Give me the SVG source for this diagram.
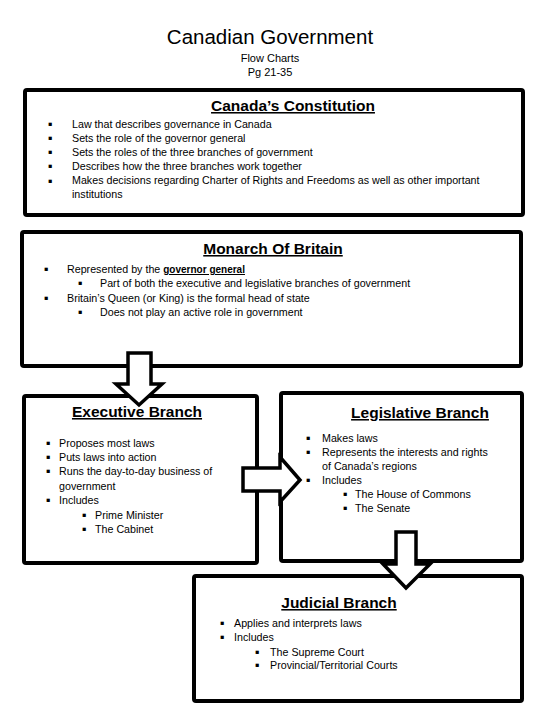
<svg xmlns="http://www.w3.org/2000/svg" width="540" height="720" viewBox="0 0 540 720">
<style>
text{font-family:"Liberation Sans",Arial,sans-serif;fill:#000}
.h1{font-size:20.5px}
.sub{font-size:11px}
.ttl{font-size:15.5px;font-weight:bold;text-decoration:underline}
.t{font-size:10.7px}
.b{font-family:"DejaVu Sans",sans-serif;font-size:6.5px}
.box{fill:#fff;stroke:#000;stroke-width:4}
.arr{fill:#fff;stroke:#000;stroke-width:3.5;stroke-linejoin:miter}
</style>
<rect width="540" height="720" fill="#fff"/>
<g id="header">
<text class="h1" x="270" y="44" text-anchor="middle">Canadian Government</text>
<text class="sub" x="270" y="62" text-anchor="middle">Flow Charts</text>
<text class="sub" x="270" y="76" text-anchor="middle">Pg 21-35</text>
</g>
<g id="constitution">
<rect class="box" x="25" y="90" width="498" height="125" rx="2"/>
<text class="ttl" x="293" y="111" text-anchor="middle">Canada’s Constitution</text>
<text class="b" x="48" y="126">▪</text><text class="t" x="72" y="128">Law that describes governance in Canada</text>
<text class="b" x="48" y="140">▪</text><text class="t" x="72" y="142">Sets the role of the governor general</text>
<text class="b" x="48" y="154">▪</text><text class="t" x="72" y="156">Sets the roles of the three branches of government</text>
<text class="b" x="48" y="168">▪</text><text class="t" x="72" y="170">Describes how the three branches work together</text>
<text class="b" x="48" y="183">▪</text><text class="t" x="72" y="184">Makes decisions regarding Charter of Rights and Freedoms as well as other important</text>
<text class="t" x="72" y="198">institutions</text>
</g>
<g id="monarch">
<rect class="box" x="22" y="232" width="499" height="134" rx="2"/>
<text class="ttl" x="273" y="254" text-anchor="middle">Monarch Of Britain</text>
<text class="b" x="44" y="271">▪</text><text class="t" x="67" y="273">Represented by the <tspan font-weight="bold" text-decoration="underline" font-size="10px">governor general</tspan></text>
<text class="b" x="78" y="285">▪</text><text class="t" x="100" y="287">Part of both the executive and legislative branches of government</text>
<text class="b" x="44" y="300">▪</text><text class="t" x="67" y="302">Britain’s Queen (or King) is the formal head of state</text>
<text class="b" x="78" y="314">▪</text><text class="t" x="100" y="316">Does not play an active role in government</text>
</g>
<g id="executive">
<rect class="box" x="24" y="396" width="233" height="167" rx="2"/>
<text class="ttl" x="137" y="417" text-anchor="middle">Executive Branch</text>
<text class="b" x="46" y="445">▪</text><text class="t" x="59" y="447">Proposes most laws</text>
<text class="b" x="46" y="459">▪</text><text class="t" x="59" y="461">Puts laws into action</text>
<text class="b" x="46" y="473">▪</text><text class="t" x="59" y="475">Runs the day-to-day business of</text>
<text class="t" x="59" y="490">government</text>
<text class="b" x="46" y="502">▪</text><text class="t" x="59" y="504">Includes</text>
<text class="b" x="82" y="517">▪</text><text class="t" x="95" y="519">Prime Minister</text>
<text class="b" x="82" y="531">▪</text><text class="t" x="95" y="533">The Cabinet</text>
</g>
<g id="legislative">
<rect class="box" x="281" y="393" width="241" height="168" rx="2"/>
<text class="ttl" x="420" y="418" text-anchor="middle">Legislative Branch</text>
<text class="b" x="306" y="440">▪</text><text class="t" x="322" y="442">Makes laws</text>
<text class="b" x="306" y="454">▪</text><text class="t" x="322" y="456">Represents the interests and rights</text>
<text class="t" x="322" y="470">of Canada’s regions</text>
<text class="b" x="306" y="482">▪</text><text class="t" x="322" y="484">Includes</text>
<text class="b" x="343" y="496">▪</text><text class="t" x="355" y="498">The House of Commons</text>
<text class="b" x="343" y="510">▪</text><text class="t" x="355" y="512">The Senate</text>
</g>
<g id="judicial">
<rect class="box" x="194" y="576" width="328" height="125" rx="2"/>
<text class="ttl" x="339" y="608" text-anchor="middle">Judicial Branch</text>
<text class="b" x="220" y="625">▪</text><text class="t" x="234" y="627">Applies and interprets laws</text>
<text class="b" x="220" y="639">▪</text><text class="t" x="234" y="641">Includes</text>
<text class="b" x="255" y="654">▪</text><text class="t" x="270" y="656">The Supreme Court</text>
<text class="b" x="255" y="667">▪</text><text class="t" x="270" y="669">Provincial/Territorial Courts</text>
</g>
<g id="connectors">
<path class="arr" d="M128,353 H151 V384 H162 L139,405 L116,384 H128 Z"/>
<path class="arr" d="M243,468 H280 V457 L300,480 L280,502 V491 H243 Z"/>
<path class="arr" d="M396,532 H416 V564 H430 L406,588 L383,564 H396 Z"/>
</g>
</svg>
